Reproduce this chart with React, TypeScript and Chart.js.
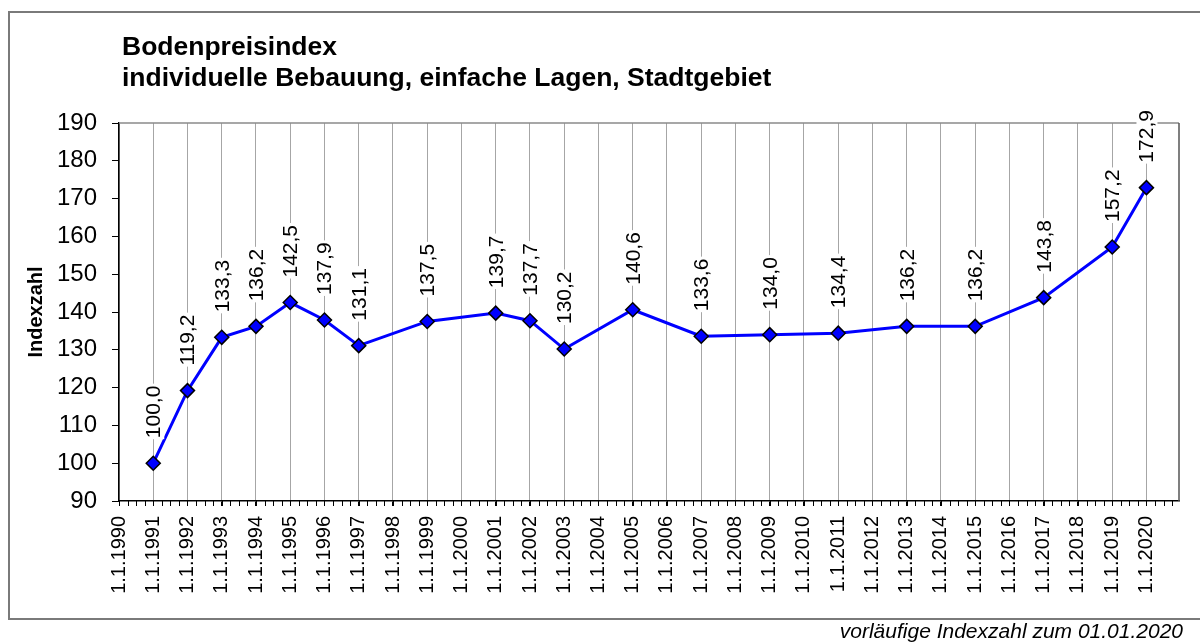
import React, { useEffect, useRef } from "react";
import { Chart, registerables } from "chart.js";

Chart.register(...registerables);

const titleLines = ["Bodenpreisindex", "individuelle Bebauung, einfache Lagen, Stadtgebiet"];
const yAxisTitle = "Indexzahl";
const footerText = "vorläufige Indexzahl zum 01.01.2020";

const years = [1991, 1992, 1993, 1994, 1995, 1996, 1997, 1999, 2001, 2002, 2003, 2005, 2007, 2009, 2011, 2013, 2015, 2017, 2019, 2020];
const values = [100.0, 119.2, 133.3, 136.2, 142.5, 137.9, 131.1, 137.5, 139.7, 137.7, 130.2, 140.6, 133.6, 134.0, 134.4, 136.2, 136.2, 143.8, 157.2, 172.9];
const tickYears = Array.from({ length: 31 }, (_, i) => 1990 + i);
const yMin = 90;
const yMax = 190;
const yStep = 10;
const xMin = 1990;
const xMax = 2020.95;

const FONT = "'Liberation Sans', Arial, sans-serif";

const fmt = (v: number) => v.toFixed(1).replace(".", ",");

const decorPlugin = {
  id: "decor",
  beforeDatasetsDraw(chart: any) {
    const { ctx, chartArea } = chart;
    const { left, right, top, bottom } = chartArea;
    ctx.save();
    ctx.strokeStyle = "#8a8a8a";
    ctx.lineWidth = 1.5;
    ctx.beginPath();
    ctx.moveTo(left, top);
    ctx.lineTo(right, top);
    ctx.stroke();
    ctx.strokeStyle = "#555555";
    ctx.beginPath();
    ctx.moveTo(right, top);
    ctx.lineTo(right, bottom);
    ctx.stroke();
    const xs = chart.scales.x;
    ctx.strokeStyle = "#000";
    ctx.lineWidth = 1;
    for (let q = xMin * 4; q <= xMax * 4; q++) {
      const v = q / 4;
      const px = Math.round(xs.getPixelForValue(v)) + 0.5;
      ctx.beginPath();
      ctx.moveTo(px, bottom);
      ctx.lineTo(px, bottom + 5);
      ctx.stroke();
    }
    ctx.restore();
  },
  afterDatasetsDraw(chart: any) {
    const { ctx } = chart;
    const meta = chart.getDatasetMeta(0);
    ctx.save();
    ctx.font = `21px ${FONT}`;
    meta.data.forEach((pt: any, i: number) => {
      const label = fmt(values[i]);
      const w = ctx.measureText(label).width;
      ctx.save();
      ctx.translate(pt.x, pt.y - 25);
      ctx.rotate(-Math.PI / 2);
      ctx.fillStyle = "#ffffff";
      ctx.fillRect(-1, -10, w + 3, 21);
      ctx.fillStyle = "#000000";
      ctx.textAlign = "left";
      ctx.textBaseline = "middle";
      ctx.fillText(label, 0, 1);
      ctx.restore();
    });
    ctx.restore();
  },
  afterDraw(chart: any) {
    const { ctx } = chart;
    ctx.save();
    ctx.strokeStyle = "#7a7a7a";
    ctx.lineWidth = 2;
    ctx.strokeRect(9, 12, 1200, 607);
    ctx.fillStyle = "#000";
    ctx.font = `bold 26.5px ${FONT}`;
    ctx.textAlign = "left";
    ctx.textBaseline = "alphabetic";
    ctx.fillText(titleLines[0], 122, 55);
    ctx.fillText(titleLines[1], 122, 86);
    ctx.font = `italic 21px ${FONT}`;
    ctx.textAlign = "right";
    ctx.fillText(footerText, 1183, 638);
    ctx.restore();
  },
};

export default function App() {
  const ref = useRef<HTMLCanvasElement | null>(null);
  useEffect(() => {
    if (!ref.current) return;
    const chart = new Chart(ref.current, {
      type: "line",
      data: {
        datasets: [
          {
            data: years.map((y, i) => ({ x: y, y: values[i] })),
            borderColor: "#0000ff",
            borderWidth: 3,
            backgroundColor: "#0000ff",
            pointStyle: "rectRot",
            pointRadius: 7,
            pointBackgroundColor: "#0000ff",
            pointBorderColor: "#000000",
            pointBorderWidth: 1.5,
            tension: 0,
            fill: false,
          },
        ],
      },
      options: {
        responsive: false,
        animation: false,
        devicePixelRatio: 1,
        layout: { padding: { left: 0, top: 123, right: 21, bottom: 0 } },
        plugins: {
          legend: { display: false },
          tooltip: { enabled: false },
          title: { display: false },
        },
        scales: {
          x: {
            type: "linear",
            min: xMin,
            max: xMax,
            afterBuildTicks: (scale: any) => {
              scale.ticks = tickYears.map((v) => ({ value: v }));
            },
            afterFit: (scale: any) => {
              scale.height = 143;
            },
            ticks: {
              autoSkip: false,
              minRotation: 90,
              maxRotation: 90,
              padding: 10,
              color: "#000",
              font: { family: FONT, size: 20 },
              callback: (v: any) => `1.1.${v}`,
            },
            grid: {
              display: true,
              drawOnChartArea: true,
              drawTicks: true,
              tickLength: 5,
              color: "#a6a6a6",
              tickColor: "#000",
              lineWidth: 1,
            },
            border: { display: true, color: "#000", width: 1.5 },
          },
          y: {
            type: "linear",
            min: yMin,
            max: yMax,
            afterFit: (scale: any) => {
              scale.width = 119;
            },
            ticks: {
              stepSize: yStep,
              padding: 15,
              color: "#000",
              font: { family: FONT, size: 24 },
            },
            grid: {
              display: true,
              drawOnChartArea: false,
              drawTicks: true,
              tickLength: 7,
              tickColor: "#000",
              color: "#000",
            },
            border: { display: true, color: "#000", width: 1.5 },
            title: {
              display: true,
              text: yAxisTitle,
              color: "#000",
              font: { family: FONT, size: 20, weight: "bold" },
              padding: { top: 24, bottom: 0 },
            },
          },
        },
      },
      plugins: [decorPlugin],
    } as any);
    return () => chart.destroy();
  }, []);
  return (
    <div style={{ position: "absolute", left: 0, top: 0, width: 1200, height: 644, background: "#fff" }}>
      <canvas ref={ref} width={1200} height={644} />
    </div>
  );
}
